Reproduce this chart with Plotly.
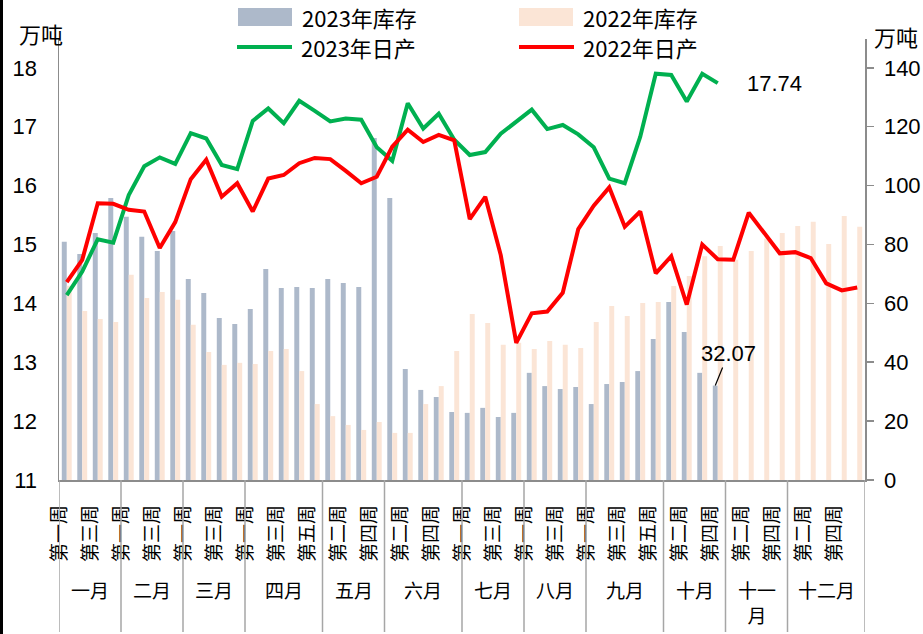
import plotly.graph_objects as go

# ---------------- data ----------------
months = ["一月", "二月", "三月", "四月", "五月", "六月", "七月", "八月", "九月", "十月", "十一<br>月", "十二月"]
weeks_per_month = [4, 4, 4, 5, 4, 5, 4, 4, 5, 4, 4, 5]
week_names = ["第一周", "第二周", "第三周", "第四周", "第五周"]

inv_2023 = [80.9, 76.8, 83.9, 95.8, 89.4, 82.6, 77.8, 84.6, 68.3, 63.5, 55.0, 53.0, 58.1,
            71.7, 65.2, 65.6, 65.2, 68.3, 66.9, 65.6, 116.2, 95.8, 37.7, 30.6, 28.2, 23.1,
            22.8, 24.5, 21.4, 22.8, 36.4, 31.9, 30.9, 31.6, 25.8, 32.6, 33.3, 37.0, 47.9,
            60.5, 50.3, 36.4, 32.07]
inv_2022 = [66.0, 57.4, 54.7, 53.7, 69.7, 61.8, 63.9, 61.2, 52.7, 43.5, 39.1, 39.8, 39.4,
            43.8, 44.5, 37.0, 25.8, 21.7, 18.7, 17.0, 19.7, 16.0, 16.0, 25.8, 31.9, 43.8,
            56.4, 53.3, 45.9, 46.6, 44.5, 47.2, 45.9, 44.8, 53.7, 59.1, 55.7, 60.1, 60.5,
            65.9, 69.3, 76.0, 79.5, 74.8, 77.8, 82.0, 83.9, 86.3, 87.7, 80.2, 89.7, 86.0]
prod_2023 = [14.14, 14.54, 15.09, 15.03, 15.84, 16.33, 16.48, 16.37, 16.89, 16.80, 16.35, 16.28, 17.10,
             17.31, 17.06, 17.44, 17.27, 17.09, 17.14, 17.12, 16.65, 16.42, 17.40, 16.97, 17.22, 16.78,
             16.52, 16.57, 16.88, 17.08, 17.29, 16.96, 17.03, 16.87, 16.65, 16.12, 16.04, 16.83, 17.90,
             17.88, 17.43, 17.90, 17.74]
prod_2022 = [14.36, 14.74, 15.70, 15.69, 15.59, 15.56, 14.94, 15.38, 16.11, 16.44, 15.81, 16.04, 15.56,
             16.12, 16.18, 16.38, 16.47, 16.45, 16.25, 16.04, 16.15, 16.66, 16.95, 16.74, 16.86, 16.77,
             15.43, 15.81, 14.82, 13.33, 13.83, 13.86, 14.18, 15.26, 15.66, 15.97, 15.30, 15.56, 14.51,
             14.80, 13.98, 15.00, 14.75, 14.74, 15.54, 15.19, 14.85, 14.87, 14.77, 14.34, 14.22, 14.27]

names = ["2023年库存", "2022年库存", "2023年日产", "2022年日产"]
left_ticks = [11, 12, 13, 14, 15, 16, 17, 18]
right_ticks = [0, 20, 40, 60, 80, 100, 120, 140]

# ---------------- styles ----------------
C_BLUE = "#ADB9CA"
C_PEACH = "#FBE5D6"
C_GREEN = "#00B050"
C_RED = "#FF0000"
AX = "#8C8C8C"
CJK = "Noto Sans CJK SC"
NUM = "Liberation Sans, Noto Sans CJK SC"

W, H = 923, 634
L, R, T, B = 59, 58, 39, 154
pw, ph = W - L - R, H - T - B


def px(xp):
    return (xp - L) / pw


def py(yp):
    return (H - B - yp) / ph


week_labels = [week_names[j] for n in weeks_per_month for j in range(n)]
x = list(range(len(week_labels)))

fig = go.Figure()
fig.add_trace(go.Bar(x=x[:len(inv_2023)], y=inv_2023, name=names[0], marker_color=C_BLUE,
                     marker_line_width=0, yaxis="y"))
fig.add_trace(go.Bar(x=x[:len(inv_2022)], y=inv_2022, name=names[1], marker_color=C_PEACH,
                     marker_line_width=0, yaxis="y"))
fig.add_trace(go.Scatter(x=x[:len(prod_2023)], y=prod_2023, name=names[2], mode="lines",
                         line=dict(color=C_GREEN, width=4), yaxis="y2"))
fig.add_trace(go.Scatter(x=x[:len(prod_2022)], y=prod_2022, name=names[3], mode="lines",
                         line=dict(color=C_RED, width=4), yaxis="y2"))

tickvals = [i - 0.45 for i in x if i % 2 == 0]
ticktext = [week_labels[i] for i in x if i % 2 == 0]

shapes = []
annotations = []
start = -0.5
for m, n in zip(months, weeks_per_month):
    shapes.append(dict(type="line", xref="x", yref="paper", x0=start, x1=start, y0=0, y1=py(632),
                       line=dict(color="#A6A6A6", width=1.5)))
    annotations.append(dict(xref="x", yref="paper", x=start + n / 2, y=py(574), text=m,
                            showarrow=False, yanchor="top", xanchor="center",
                            font=dict(family=CJK, size=19, color="#000")))
    start += n
shapes.append(dict(type="line", xref="x", yref="paper", x0=start, x1=start, y0=0, y1=py(632),
                   line=dict(color="#A6A6A6", width=1.5)))

# chart frame left edge
shapes.append(dict(type="line", xref="paper", yref="paper", x0=px(1.5), x1=px(1.5), y0=py(634), y1=py(0),
                   line=dict(color="#000", width=3)))

# manual legend
leg = [(names[0], "box", C_BLUE, 238, 17), (names[1], "box", C_PEACH, 519, 17),
       (names[2], "line", C_GREEN, 237, 47), (names[3], "line", C_RED, 519, 47)]
for name, kind, col, x0, yc in leg:
    if kind == "box":
        shapes.append(dict(type="rect", xref="paper", yref="paper", x0=px(x0), x1=px(x0 + 54),
                           y0=py(yc + 9), y1=py(yc - 9), fillcolor=col, line=dict(width=0)))
    else:
        shapes.append(dict(type="line", xref="paper", yref="paper", x0=px(x0), x1=px(x0 + 55),
                           y0=py(yc), y1=py(yc), line=dict(color=col, width=4)))
    annotations.append(dict(xref="paper", yref="paper", x=px(x0 + 62), y=py(yc), text=name,
                            showarrow=False, xanchor="left", yanchor="middle",
                            font=dict(family=CJK, size=22, color="#000")))

# axis unit labels
annotations.append(dict(xref="paper", yref="paper", x=px(41), y=py(33), text="万吨", showarrow=False,
                        xanchor="center", yanchor="middle",
                        font=dict(family=CJK, size=22, color="#000")))
annotations.append(dict(xref="paper", yref="paper", x=px(896), y=py(36), text="万吨", showarrow=False,
                        xanchor="center", yanchor="middle",
                        font=dict(family=CJK, size=22, color="#000")))

# data labels
annotations.append(dict(xref="x", yref="y2", x=x[len(prod_2023) - 1], y=prod_2023[-1],
                        text=f"{prod_2023[-1]:.2f}", showarrow=False, xanchor="left", yanchor="middle",
                        xshift=27, font=dict(family=NUM, size=22, color="#000")))
annotations.append(dict(xref="x", yref="y", x=x[len(inv_2023) - 1] - 0.16, y=inv_2023[-1],
                        text=f"{inv_2023[-1]:.2f}", showarrow=True, arrowhead=0, arrowwidth=1.2,
                        arrowcolor="#000", ax=13, ay=-32, standoff=0,
                        font=dict(family=NUM, size=22, color="#000")))

fig.update_layout(
    width=W, height=H,
    margin=dict(l=L, r=R, t=T, b=B, autoexpand=False),
    paper_bgcolor="white", plot_bgcolor="white",
    barmode="group", bargap=0.36, bargroupgap=0,
    showlegend=False, hovermode=False,
    shapes=shapes, annotations=annotations,
    xaxis=dict(range=[-0.5, 51.5], showline=True, linecolor=AX, linewidth=1.5,
               tickmode="array", tickvals=tickvals, ticktext=ticktext, tickangle=-90,
               ticks="", showgrid=False, zeroline=False, ticklabelstandoff=16,
               tickfont=dict(family=CJK, size=19, color="#000")),
    yaxis=dict(side="right", range=[0, 149.8], tickmode="array", tickvals=right_ticks,
               ticks="outside", ticklen=7, tickcolor=AX, tickwidth=1.5,
               showline=True, linecolor=AX, linewidth=1.5, showgrid=False, zeroline=False,
               ticklabelstandoff=6, tickfont=dict(family=NUM, size=22, color="#000")),
    yaxis2=dict(side="left", overlaying="y", anchor="x", range=[11, 18.49], tickmode="array",
                tickvals=left_ticks, ticks="", showline=True, linecolor=AX, linewidth=1.5,
                showgrid=False, zeroline=False, ticklabelstandoff=16,
                tickfont=dict(family=NUM, size=22, color="#000")),
)

fig.write_html("out.html", config={"displayModeBar": False, "staticPlot": True},
               post_script="document.body.style.margin='0px';document.body.style.padding='0px';"
                           "document.body.style.overflow='hidden';")
